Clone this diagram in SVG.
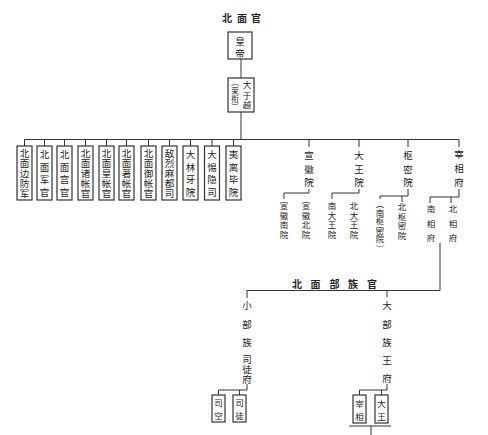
<svg xmlns="http://www.w3.org/2000/svg" width="488" height="435" viewBox="0 0 488 435">
<style>
.t{font-family:"Noto Sans CJK SC","Noto Sans CJK TC",sans-serif;font-size:9.5px;fill:#222}
.v{writing-mode:vertical-rl;text-anchor:start}
.h{text-anchor:middle}
.s{font-size:8.5px}
.xs{font-size:7.5px}
.b{font-weight:bold;font-size:10px}
.box{fill:#fff;stroke:#333;stroke-width:1.2}
.ln{fill:none;stroke:#333;stroke-width:1}
</style>
<rect width="488" height="435" fill="#fff"/>
<g id="connectors" class="ln">
<path d="M241 59V78M241 112V139.5M24.5 139.5H459"/>
<path d="M24.5 139.5V146M44.5 139.5V146M64.5 139.5V146M85.5 139.5V146M106.5 139.5V146M126.5 139.5V146M148.5 139.5V146M169.5 139.5V146M190.5 139.5V146M212 139.5V146M233.5 139.5V146"/>
<path d="M309 139.5V147M359 139.5V147M408 139.5V147M459 139.5V147"/>
<path d="M309 189V193H284V199"/>
<path d="M359 189V193H332V199"/>
<path d="M408 189V196H380V199M402 196V202"/>
<path d="M459 189V197H430V203M451 197V203"/>
<path d="M440 243V290.5H247V298M387 290.5V297"/>
<path d="M247 384V390H218.5V395M239.5 390V395"/>
<path d="M387 384V390H359.5V395M381.5 390V395"/>
<path d="M349 426H391M371 426V435"/>
</g>
<g id="title"><text class="t b h"><tspan x="227" y="21.5">北</tspan><tspan x="242" y="21.5">面</tspan><tspan x="256" y="21.5">官</tspan></text></g>
<g id="huangdi"><rect class="box" x="228" y="32" width="24" height="27"/><text class="t v"><tspan x="240" y="36.75">皇</tspan><tspan x="240" y="47.75">帝</tspan></text></g>
<g id="dayuyue"><rect class="box" x="228" y="78" width="26" height="34"/><text class="t v s"><tspan x="247" y="80.75">大</tspan><tspan x="247" y="90.75">于</tspan><tspan x="247" y="100.75">越</tspan></text><text class="t v xs"><tspan x="235" y="78.75">︵</tspan><tspan x="235" y="86.75">荣</tspan><tspan x="235" y="95.25">衔</tspan><tspan x="235" y="103.25">︶</tspan></text></g>
<g id="n1"><rect class="box" x="17" y="146" width="15" height="54"/><text class="t v"><tspan x="24.5" y="148.25">北</tspan><tspan x="24.5" y="158.25">面</tspan><tspan x="24.5" y="168.25">边</tspan><tspan x="24.5" y="178.25">防</tspan><tspan x="24.5" y="188.25">军</tspan></text></g>
<g id="n2"><rect class="box" x="37" y="146" width="15" height="54"/><text class="t v"><tspan x="44.5" y="149.25">北</tspan><tspan x="44.5" y="161.75">面</tspan><tspan x="44.5" y="174.25">军</tspan><tspan x="44.5" y="186.75">官</tspan></text></g>
<g id="n3"><rect class="box" x="57" y="146" width="15" height="54"/><text class="t v"><tspan x="64.5" y="149.25">北</tspan><tspan x="64.5" y="161.75">面</tspan><tspan x="64.5" y="174.25">宫</tspan><tspan x="64.5" y="186.75">官</tspan></text></g>
<g id="n4"><rect class="box" x="78" y="146" width="15" height="54"/><text class="t v"><tspan x="85.5" y="148.25">北</tspan><tspan x="85.5" y="158.25">面</tspan><tspan x="85.5" y="168.25">诸</tspan><tspan x="85.5" y="178.25">帐</tspan><tspan x="85.5" y="188.25">官</tspan></text></g>
<g id="n5"><rect class="box" x="99" y="146" width="15" height="54"/><text class="t v"><tspan x="106.5" y="148.25">北</tspan><tspan x="106.5" y="158.25">面</tspan><tspan x="106.5" y="168.25">皇</tspan><tspan x="106.5" y="178.25">帐</tspan><tspan x="106.5" y="188.25">官</tspan></text></g>
<g id="n6"><rect class="box" x="119" y="146" width="15" height="54"/><text class="t v"><tspan x="126.5" y="148.25">北</tspan><tspan x="126.5" y="158.25">面</tspan><tspan x="126.5" y="168.25">著</tspan><tspan x="126.5" y="178.25">帐</tspan><tspan x="126.5" y="188.25">官</tspan></text></g>
<g id="n7"><rect class="box" x="141" y="146" width="15" height="54"/><text class="t v"><tspan x="148.5" y="148.25">北</tspan><tspan x="148.5" y="158.25">面</tspan><tspan x="148.5" y="168.25">御</tspan><tspan x="148.5" y="178.25">帐</tspan><tspan x="148.5" y="188.25">官</tspan></text></g>
<g id="n8"><rect class="box" x="162" y="146" width="15" height="54"/><text class="t v"><tspan x="169.5" y="148.25">敌</tspan><tspan x="169.5" y="158.25">烈</tspan><tspan x="169.5" y="168.25">麻</tspan><tspan x="169.5" y="178.25">都</tspan><tspan x="169.5" y="188.25">司</tspan></text></g>
<g id="n9"><rect class="box" x="183" y="146" width="15" height="54"/><text class="t v"><tspan x="190.5" y="149.25">大</tspan><tspan x="190.5" y="161.75">林</tspan><tspan x="190.5" y="174.25">牙</tspan><tspan x="190.5" y="186.75">院</tspan></text></g>
<g id="n10"><rect class="box" x="204.5" y="146" width="15" height="54"/><text class="t v"><tspan x="212" y="149.25">大</tspan><tspan x="212" y="161.75">惕</tspan><tspan x="212" y="174.25">隐</tspan><tspan x="212" y="186.75">司</tspan></text></g>
<g id="n11"><rect class="box" x="226" y="146" width="15" height="54"/><text class="t v"><tspan x="233.5" y="149.25">夷</tspan><tspan x="233.5" y="161.75">离</tspan><tspan x="233.5" y="174.25">毕</tspan><tspan x="233.5" y="186.75">院</tspan></text></g>
<g id="xuanhuiyuan"><text class="t v"><tspan x="309" y="150.25">宣</tspan><tspan x="309" y="163.75">徽</tspan><tspan x="309" y="177.25">院</tspan></text></g>
<g id="xuanhuinan"><text class="t v s"><tspan x="284" y="201.75">宣</tspan><tspan x="284" y="211.25">徽</tspan><tspan x="284" y="220.75">南</tspan><tspan x="284" y="230.25">院</tspan></text></g>
<g id="xuanhuibei"><text class="t v s"><tspan x="306" y="201.75">宣</tspan><tspan x="306" y="211.25">徽</tspan><tspan x="306" y="220.75">北</tspan><tspan x="306" y="230.25">院</tspan></text></g>
<g id="dawangyuan"><text class="t v"><tspan x="359" y="150.25">大</tspan><tspan x="359" y="163.75">王</tspan><tspan x="359" y="177.25">院</tspan></text></g>
<g id="nandawang"><text class="t v s"><tspan x="332" y="201.75">南</tspan><tspan x="332" y="211.25">大</tspan><tspan x="332" y="220.75">王</tspan><tspan x="332" y="230.25">院</tspan></text></g>
<g id="beidawang"><text class="t v s"><tspan x="354" y="201.75">北</tspan><tspan x="354" y="211.25">大</tspan><tspan x="354" y="220.75">王</tspan><tspan x="354" y="230.25">院</tspan></text></g>
<g id="shumiyuan"><text class="t v"><tspan x="408" y="150.25">枢</tspan><tspan x="408" y="163.75">密</tspan><tspan x="408" y="177.25">院</tspan></text></g>
<g id="nanshumi"><text class="t v s"><tspan x="380" y="199.25">︵</tspan><tspan x="380" y="207.75">南</tspan><tspan x="380" y="216.75">枢</tspan><tspan x="380" y="225.75">密</tspan><tspan x="380" y="234.75">院</tspan><tspan x="380" y="243.75">︶</tspan></text></g>
<g id="beishumi"><text class="t v s"><tspan x="402" y="202.75">北</tspan><tspan x="402" y="212.25">枢</tspan><tspan x="402" y="221.75">密</tspan><tspan x="402" y="231.25">院</tspan></text></g>
<g id="zaixiangfu"><text class="t v"><tspan x="459" y="149.25">宰</tspan><tspan x="459" y="163.25">相</tspan><tspan x="459" y="177.25">府</tspan></text></g>
<g id="nanxiang"><text class="t v s"><tspan x="431" y="204.75">南</tspan><tspan x="431" y="219.25">相</tspan><tspan x="431" y="233.75">府</tspan></text></g>
<g id="beixiang"><text class="t v s"><tspan x="453" y="204.75">北</tspan><tspan x="453" y="219.25">相</tspan><tspan x="453" y="233.75">府</tspan></text></g>
<g id="buzuguan"><text class="t b h"><tspan x="297" y="287.5">北</tspan><tspan x="315.5" y="287.5">面</tspan><tspan x="334.5" y="287.5">部</tspan><tspan x="353" y="287.5">族</tspan><tspan x="372" y="287.5">官</tspan></text></g>
<g id="xiaobuzu"><text class="t v"><tspan x="247" y="300.25">小</tspan><tspan x="247" y="318.75">部</tspan><tspan x="247" y="337.25">族</tspan><tspan x="247" y="354.25">司</tspan><tspan x="247" y="364.25">徒</tspan><tspan x="247" y="374.25">府</tspan></text></g>
<g id="dabuzu"><text class="t v"><tspan x="387" y="300.25">大</tspan><tspan x="387" y="318.75">部</tspan><tspan x="387" y="337.25">族</tspan><tspan x="387" y="355.25">王</tspan><tspan x="387" y="373.25">府</tspan></text></g>
<g id="sikong"><rect class="box" x="212" y="395" width="13" height="27"/><text class="t v s"><tspan x="218.5" y="398.75">司</tspan><tspan x="218.5" y="410.75">空</tspan></text></g>
<g id="situ"><rect class="box" x="233" y="395" width="13" height="27"/><text class="t v s"><tspan x="239.5" y="398.75">司</tspan><tspan x="239.5" y="410.75">徒</tspan></text></g>
<g id="zaixiang"><rect class="box" x="353" y="395" width="13" height="28"/><text class="t v s"><tspan x="359.5" y="399.25">宰</tspan><tspan x="359.5" y="412.25">相</tspan></text></g>
<g id="dawang"><rect class="box" x="375" y="395" width="13" height="28"/><text class="t v s"><tspan x="381.5" y="399.25">大</tspan><tspan x="381.5" y="412.25">王</tspan></text></g>
</svg>
